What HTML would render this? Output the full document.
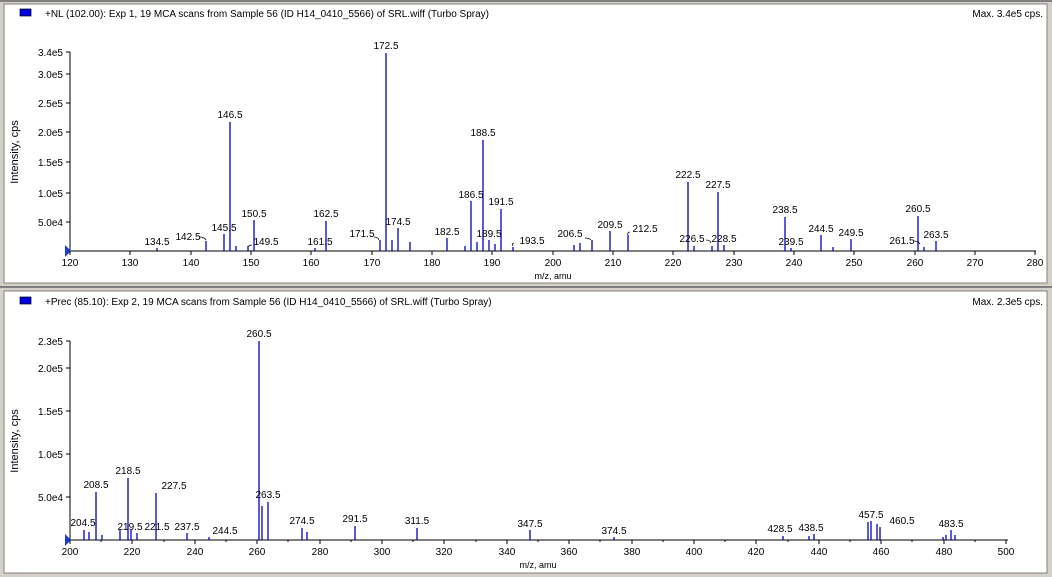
<!DOCTYPE html>
<html><head><meta charset="utf-8"><style>
html,body{margin:0;padding:0;background:#d4d0c8;}
svg{display:block;font-family:"Liberation Sans",Arial,sans-serif;}
</style></head><body>
<svg width="1052" height="577" viewBox="0 0 1052 577">
<rect x="0" y="0" width="1052" height="577" fill="#d4d0c8"/>
<rect x="0" y="0" width="1052" height="2" fill="#808080"/>
<rect x="4" y="4" width="1043" height="279" fill="#fff" stroke="#808080"/>
<rect x="4" y="291" width="1043" height="282" fill="#fff" stroke="#808080"/>
<rect x="0" y="286" width="1052" height="2" fill="#808080"/>
<g font-size="10" fill="#000">
<rect x="20" y="9" width="11" height="7" fill="#0000e0" stroke="#000" stroke-width="0.7"/>
<text x="45" y="17">+NL (102.00): Exp 1, 19 MCA scans from Sample 56 (ID H14_0410_5566) of SRL.wiff (Turbo Spray)</text>
<text x="1043" y="17" text-anchor="end">Max. 3.4e5 cps.</text>
<rect x="20" y="297" width="11" height="7" fill="#0000e0" stroke="#000" stroke-width="0.7"/>
<text x="45" y="305">+Prec (85.10): Exp 2, 19 MCA scans from Sample 56 (ID H14_0410_5566) of SRL.wiff (Turbo Spray)</text>
<text x="1043" y="305" text-anchor="end">Max. 2.3e5 cps.</text>
</g>
<g id="top" font-size="10">
<line x1="70" y1="251" x2="1036" y2="251" stroke="#000"/>
<line x1="70" y1="52" x2="70" y2="251" stroke="#000"/>
<polygon points="65,245 71,251 65,257" fill="#1a3ccf"/>
<g stroke="#000">
<line x1="66" y1="52" x2="70" y2="52"/><line x1="66" y1="74" x2="70" y2="74"/><line x1="66" y1="103" x2="70" y2="103"/><line x1="66" y1="132" x2="70" y2="132"/><line x1="66" y1="162" x2="70" y2="162"/><line x1="66" y1="193" x2="70" y2="193"/><line x1="66" y1="222" x2="70" y2="222"/>
</g>
<g text-anchor="end">
<text x="63" y="56">3.4e5</text><text x="63" y="78">3.0e5</text><text x="63" y="107">2.5e5</text><text x="63" y="136">2.0e5</text><text x="63" y="166">1.5e5</text><text x="63" y="197">1.0e5</text><text x="63" y="226">5.0e4</text>
</g>
<text transform="translate(18,152) rotate(-90)" text-anchor="middle" font-size="11">Intensity, cps</text>
<g stroke="#000">
<line x1="70" y1="251" x2="70" y2="255"/><line x1="130" y1="251" x2="130" y2="255"/><line x1="191" y1="251" x2="191" y2="255"/><line x1="251" y1="251" x2="251" y2="255"/><line x1="311" y1="251" x2="311" y2="255"/><line x1="372" y1="251" x2="372" y2="255"/><line x1="432" y1="251" x2="432" y2="255"/><line x1="492" y1="251" x2="492" y2="255"/><line x1="553" y1="251" x2="553" y2="255"/><line x1="613" y1="251" x2="613" y2="255"/><line x1="673" y1="251" x2="673" y2="255"/><line x1="734" y1="251" x2="734" y2="255"/><line x1="794" y1="251" x2="794" y2="255"/><line x1="854" y1="251" x2="854" y2="255"/><line x1="915" y1="251" x2="915" y2="255"/><line x1="975" y1="251" x2="975" y2="255"/><line x1="1035" y1="251" x2="1035" y2="255"/>
</g>
<g text-anchor="middle">
<text x="70" y="266">120</text><text x="130" y="266">130</text><text x="191" y="266">140</text><text x="251" y="266">150</text><text x="311" y="266">160</text><text x="372" y="266">170</text><text x="432" y="266">180</text><text x="492" y="266">190</text><text x="553" y="266">200</text><text x="613" y="266">210</text><text x="673" y="266">220</text><text x="734" y="266">230</text><text x="794" y="266">240</text><text x="854" y="266">250</text><text x="915" y="266">260</text><text x="975" y="266">270</text><text x="1035" y="266">280</text>
</g>
<text x="553" y="279" text-anchor="middle" font-size="9">m/z, amu</text>
<g stroke="#0000c8" stroke-width="1.3">
<line x1="157" y1="251" x2="157" y2="248"/>
<line x1="206" y1="251" x2="206" y2="241"/>
<line x1="224" y1="251" x2="224" y2="234"/>
<line x1="230" y1="251" x2="230" y2="122"/>
<line x1="236" y1="251" x2="236" y2="246"/>
<line x1="248" y1="251" x2="248" y2="246"/>
<line x1="254" y1="251" x2="254" y2="220"/>
<line x1="315" y1="251" x2="315" y2="248"/>
<line x1="326" y1="251" x2="326" y2="221"/>
<line x1="380" y1="251" x2="380" y2="240"/>
<line x1="386" y1="251" x2="386" y2="53"/>
<line x1="392" y1="251" x2="392" y2="240"/>
<line x1="398" y1="251" x2="398" y2="228"/>
<line x1="410" y1="251" x2="410" y2="242"/>
<line x1="447" y1="251" x2="447" y2="238"/>
<line x1="465" y1="251" x2="465" y2="246"/>
<line x1="471" y1="251" x2="471" y2="201"/>
<line x1="477" y1="251" x2="477" y2="242"/>
<line x1="483" y1="251" x2="483" y2="140"/>
<line x1="489" y1="251" x2="489" y2="240"/>
<line x1="495" y1="251" x2="495" y2="244"/>
<line x1="501" y1="251" x2="501" y2="209"/>
<line x1="513" y1="251" x2="513" y2="247"/>
<line x1="574" y1="251" x2="574" y2="245"/>
<line x1="580" y1="251" x2="580" y2="243"/>
<line x1="592" y1="251" x2="592" y2="240"/>
<line x1="610" y1="251" x2="610" y2="231"/>
<line x1="628" y1="251" x2="628" y2="235"/>
<line x1="688" y1="251" x2="688" y2="182"/>
<line x1="694" y1="251" x2="694" y2="246"/>
<line x1="712" y1="251" x2="712" y2="246"/>
<line x1="718" y1="251" x2="718" y2="192"/>
<line x1="724" y1="251" x2="724" y2="245"/>
<line x1="785" y1="251" x2="785" y2="217"/>
<line x1="791" y1="251" x2="791" y2="248"/>
<line x1="821" y1="251" x2="821" y2="235"/>
<line x1="833" y1="251" x2="833" y2="247"/>
<line x1="851" y1="251" x2="851" y2="239"/>
<line x1="918" y1="251" x2="918" y2="216"/>
<line x1="924" y1="251" x2="924" y2="247"/>
<line x1="936" y1="251" x2="936" y2="241"/>
</g>
<g fill="none" stroke="#000" stroke-width="0.8">
<path d="M200,237 q4,0 6,3"/><path d="M252,245 q-3,0 -4,2"/><path d="M374,237 q4,0 5,3"/><path d="M514,243 q-3,1 -1,3"/><path d="M585,238 q4,0 6,2"/><path d="M630,232 q-3,0 -2,3"/><path d="M706,240 q4,0 5,3"/><path d="M914,241 q4,0 6,3"/>
</g>
<g text-anchor="middle">
<text x="157" y="245">134.5</text><text x="188" y="240">142.5</text><text x="224" y="231">145.5</text><text x="230" y="118">146.5</text><text x="266" y="245">149.5</text><text x="254" y="217">150.5</text><text x="320" y="245">161.5</text><text x="326" y="217">162.5</text><text x="362" y="237">171.5</text><text x="386" y="49">172.5</text><text x="398" y="225">174.5</text><text x="447" y="235">182.5</text><text x="471" y="198">186.5</text><text x="483" y="136">188.5</text><text x="489" y="237">189.5</text><text x="501" y="205">191.5</text><text x="532" y="244">193.5</text><text x="570" y="237">206.5</text><text x="610" y="228">209.5</text><text x="645" y="232">212.5</text><text x="688" y="178">222.5</text><text x="692" y="242">226.5</text><text x="724" y="242">228.5</text><text x="718" y="188">227.5</text><text x="785" y="213">238.5</text><text x="791" y="245">239.5</text><text x="821" y="232">244.5</text><text x="851" y="236">249.5</text><text x="918" y="212">260.5</text><text x="902" y="244">261.5</text><text x="936" y="238">263.5</text>
</g>
</g>
<g id="bot" font-size="10">
<line x1="70" y1="540" x2="1008" y2="540" stroke="#000"/>
<line x1="70" y1="341" x2="70" y2="540" stroke="#000"/>
<polygon points="65,534 71,540 65,546" fill="#1a3ccf"/>
<g stroke="#000">
<line x1="66" y1="341" x2="70" y2="341"/><line x1="66" y1="368" x2="70" y2="368"/><line x1="66" y1="411" x2="70" y2="411"/><line x1="66" y1="454" x2="70" y2="454"/><line x1="66" y1="497" x2="70" y2="497"/>
</g>
<g text-anchor="end">
<text x="63" y="345">2.3e5</text><text x="63" y="372">2.0e5</text><text x="63" y="415">1.5e5</text><text x="63" y="458">1.0e5</text><text x="63" y="501">5.0e4</text>
</g>
<text transform="translate(18,441) rotate(-90)" text-anchor="middle" font-size="11">Intensity, cps</text>
<g stroke="#000">
<line x1="70" y1="540" x2="70" y2="544"/><line x1="132" y1="540" x2="132" y2="544"/><line x1="195" y1="540" x2="195" y2="544"/><line x1="257" y1="540" x2="257" y2="544"/><line x1="320" y1="540" x2="320" y2="544"/><line x1="382" y1="540" x2="382" y2="544"/><line x1="444" y1="540" x2="444" y2="544"/><line x1="507" y1="540" x2="507" y2="544"/><line x1="569" y1="540" x2="569" y2="544"/><line x1="632" y1="540" x2="632" y2="544"/><line x1="694" y1="540" x2="694" y2="544"/><line x1="756" y1="540" x2="756" y2="544"/><line x1="819" y1="540" x2="819" y2="544"/><line x1="881" y1="540" x2="881" y2="544"/><line x1="944" y1="540" x2="944" y2="544"/><line x1="1006" y1="540" x2="1006" y2="544"/>
<line x1="101" y1="540" x2="101" y2="542"/><line x1="164" y1="540" x2="164" y2="542"/><line x1="226" y1="540" x2="226" y2="542"/><line x1="288" y1="540" x2="288" y2="542"/><line x1="351" y1="540" x2="351" y2="542"/><line x1="413" y1="540" x2="413" y2="542"/><line x1="476" y1="540" x2="476" y2="542"/><line x1="538" y1="540" x2="538" y2="542"/><line x1="600" y1="540" x2="600" y2="542"/><line x1="663" y1="540" x2="663" y2="542"/><line x1="725" y1="540" x2="725" y2="542"/><line x1="788" y1="540" x2="788" y2="542"/><line x1="850" y1="540" x2="850" y2="542"/><line x1="912" y1="540" x2="912" y2="542"/><line x1="975" y1="540" x2="975" y2="542"/>
</g>
<g text-anchor="middle">
<text x="70" y="555">200</text><text x="132" y="555">220</text><text x="195" y="555">240</text><text x="257" y="555">260</text><text x="320" y="555">280</text><text x="382" y="555">300</text><text x="444" y="555">320</text><text x="507" y="555">340</text><text x="569" y="555">360</text><text x="632" y="555">380</text><text x="694" y="555">400</text><text x="756" y="555">420</text><text x="819" y="555">440</text><text x="881" y="555">460</text><text x="944" y="555">480</text><text x="1006" y="555">500</text>
</g>
<text x="538" y="568" text-anchor="middle" font-size="9">m/z, amu</text>
<g stroke="#0000c8" stroke-width="1.3">
<line x1="84" y1="540" x2="84" y2="530"/>
<line x1="89" y1="540" x2="89" y2="532"/>
<line x1="96" y1="540" x2="96" y2="492"/>
<line x1="102" y1="540" x2="102" y2="535"/>
<line x1="120" y1="540" x2="120" y2="530"/>
<line x1="128" y1="540" x2="128" y2="478"/>
<line x1="131" y1="540" x2="131" y2="530"/>
<line x1="137" y1="540" x2="137" y2="533"/>
<line x1="156" y1="540" x2="156" y2="493"/>
<line x1="187" y1="540" x2="187" y2="533"/>
<line x1="209" y1="540" x2="209" y2="537"/>
<line x1="259" y1="540" x2="259" y2="341"/>
<line x1="262" y1="540" x2="262" y2="506"/>
<line x1="268" y1="540" x2="268" y2="502"/>
<line x1="302" y1="540" x2="302" y2="528"/>
<line x1="307" y1="540" x2="307" y2="532"/>
<line x1="355" y1="540" x2="355" y2="526"/>
<line x1="417" y1="540" x2="417" y2="528"/>
<line x1="530" y1="540" x2="530" y2="530"/>
<line x1="614" y1="540" x2="614" y2="537"/>
<line x1="783" y1="540" x2="783" y2="536"/>
<line x1="809" y1="540" x2="809" y2="536"/>
<line x1="814" y1="540" x2="814" y2="534"/>
<line x1="868" y1="540" x2="868" y2="522"/>
<line x1="871" y1="540" x2="871" y2="521"/>
<line x1="877" y1="540" x2="877" y2="524"/>
<line x1="880" y1="540" x2="880" y2="527"/>
<line x1="943" y1="540" x2="943" y2="537"/>
<line x1="946" y1="540" x2="946" y2="535"/>
<line x1="951" y1="540" x2="951" y2="530"/>
<line x1="955" y1="540" x2="955" y2="535"/>
</g>
<g text-anchor="middle">
<text x="83" y="526">204.5</text><text x="96" y="488">208.5</text><text x="128" y="474">218.5</text><text x="130" y="530">219.5</text><text x="157" y="530">221.5</text><text x="174" y="489">227.5</text><text x="187" y="530">237.5</text><text x="225" y="534">244.5</text><text x="259" y="337">260.5</text><text x="268" y="498">263.5</text><text x="302" y="524">274.5</text><text x="355" y="522">291.5</text><text x="417" y="524">311.5</text><text x="530" y="527">347.5</text><text x="614" y="534">374.5</text><text x="780" y="532">428.5</text><text x="811" y="531">438.5</text><text x="871" y="518">457.5</text><text x="902" y="524">460.5</text><text x="951" y="527">483.5</text>
</g>
</g>
</svg>
</body></html>
